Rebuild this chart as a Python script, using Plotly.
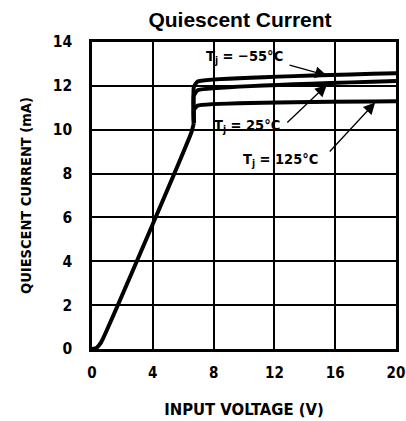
import plotly.graph_objects as go

# Shared rising segment (input voltage V, quiescent current mA)
rise_v = [0.0, 0.3, 0.6, 4.0, 6.55, 6.7]
rise_i = [0.0, 0.05, 0.3, 5.7, 9.9, 10.3]

# Regulation region per junction temperature
temps = ["-55", "25", "125"]
reg_v = [6.7, 6.7, 6.95, 20.0]
reg_i_m55 = [10.3, 11.95, 12.2, 12.58]
reg_i_25 = [10.3, 11.55, 11.8, 12.22]
reg_i_125 = [10.3, 10.9, 11.1, 11.3]

x_ticks = [0, 4, 8, 12, 16, 20]
y_ticks = [0, 2, 4, 6, 8, 10, 12, 14]

FONT_NARROW = "DejaVu Sans Condensed, Liberation Sans Narrow, Arial Narrow, sans-serif"

fig = go.Figure()
fig.add_trace(go.Scatter(x=rise_v, y=rise_i, mode="lines",
                         line=dict(color="black", width=4, shape="spline", smoothing=0.3),
                         showlegend=False, hoverinfo="skip"))
for ys in (reg_i_m55, reg_i_25, reg_i_125):
    fig.add_trace(go.Scatter(x=reg_v, y=ys, mode="lines",
                             line=dict(color="black", width=4, shape="spline", smoothing=0.4),
                             showlegend=False, hoverinfo="skip"))

# Labels with arrows: text, text x, text y, tail x, tail y, head x, head y
labels = [
    ("<b>T<sub>j</sub> = \u221255\u00b0C</b>", 10.0, 13.3, 12.9, 12.97, 15.45, 12.47),
    ("<b>T<sub>j</sub> = 25\u00b0C</b>", 10.2, 10.15, 12.75, 10.26, 15.45, 12.04),
    ("<b>T<sub>j</sub> = 125\u00b0C</b>", 12.4, 8.62, 15.55, 8.94, 18.63, 11.24),
]
for txt, tx, ty, axx, ayy, hx, hy in labels:
    fig.add_annotation(x=tx, y=ty, text=txt, showarrow=False,
                       font=dict(family=FONT_NARROW, size=14.5, color="black"))
    fig.add_annotation(x=hx, y=hy, ax=axx, ay=ayy, xref="x", yref="y",
                       axref="x", ayref="y", text="", showarrow=True,
                       arrowhead=2, arrowsize=1.8, arrowwidth=1.3, arrowcolor="black")

fig.update_layout(
    width=406, height=421,
    margin=dict(l=92, r=10, t=42, b=72),
    paper_bgcolor="white", plot_bgcolor="white",
    title=dict(text="<b>Quiescent Current</b>", x=240 / 406, xanchor="center", xref="container",
               y=1 - 20 / 421, yanchor="middle", yref="container",
               font=dict(family="Liberation Sans, Arial, sans-serif", size=21, color="black")),
    xaxis=dict(range=[0, 20], tickvals=x_ticks, ticktext=[f"<b>{v}</b>" for v in x_ticks],
               showgrid=True, gridcolor="black", gridwidth=1.5,
               showline=True, linecolor="black", linewidth=2.5, mirror=True,
               zeroline=False, ticks="", ticklabelstandoff=8, automargin=False,
               ticklabeloverflow="allow",
               tickfont=dict(family=FONT_NARROW, size=15, color="black"),
               title=dict(text="<b>INPUT VOLTAGE (V)</b>", standoff=23,
                          font=dict(family=FONT_NARROW, size=16.5, color="black"))),
    yaxis=dict(range=[0, 14], tickvals=y_ticks, ticktext=[f"<b>{v}</b>" for v in y_ticks],
               showgrid=True, gridcolor="black", gridwidth=1.5,
               showline=True, linecolor="black", linewidth=2.5, mirror=True,
               zeroline=False, ticks="", ticklabelstandoff=14, automargin=False,
               ticklabeloverflow="allow",
               tickfont=dict(family=FONT_NARROW, size=15.5, color="black"),
               title=dict(text="<b>QUIESCENT CURRENT (mA)</b>", standoff=18,
                          font=dict(family=FONT_NARROW, size=14.5, color="black"))),
)

fig.write_html("out.html", config={"displayModeBar": False},
               post_script="document.body.style.margin='0';document.body.style.overflow='hidden';")
